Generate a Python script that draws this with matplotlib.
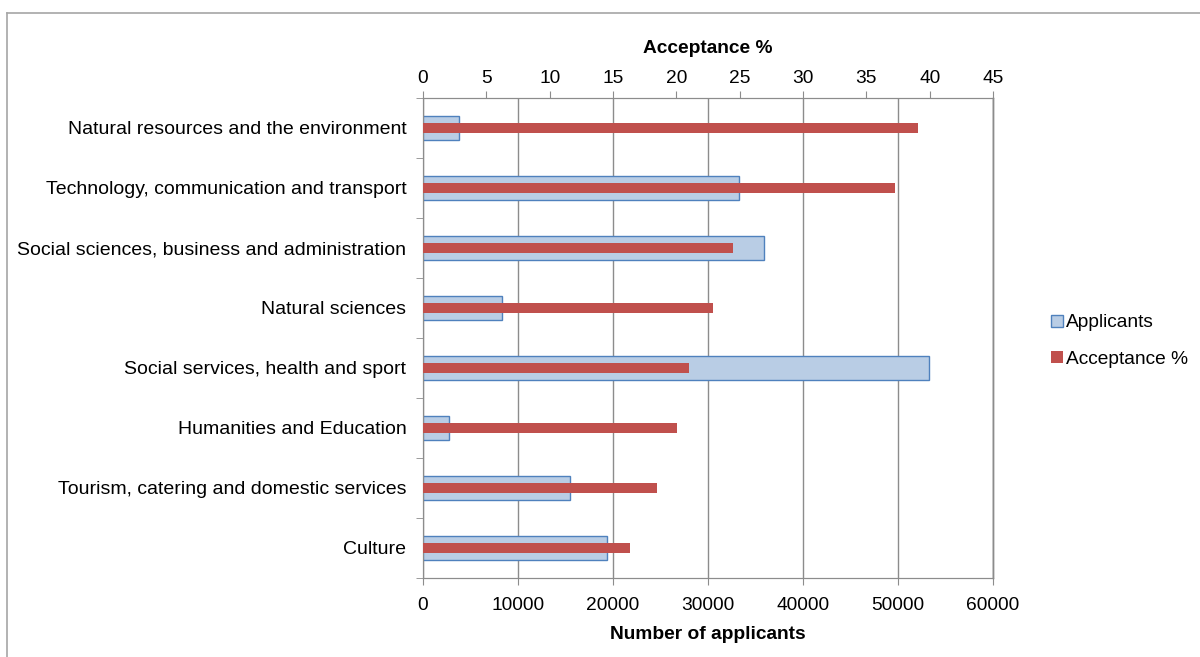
import matplotlib
matplotlib.use("Agg")
import matplotlib.pyplot as plt
from matplotlib.patches import Patch
from matplotlib.lines import Line2D
import numpy as np

plt.rcParams['font.family'] = ['Liberation Sans', 'DejaVu Sans']

categories = [
    "Natural resources and the environment",
    "Technology, communication and transport",
    "Social sciences, business and administration",
    "Natural sciences",
    "Social services, health and sport",
    "Humanities and Education",
    "Tourism, catering and domestic services",
    "Culture",
]
applicants = [3750, 33250, 35900, 8300, 53300, 2700, 15500, 19400]
acceptance = [39.1, 37.3, 24.5, 22.9, 21.0, 20.05, 18.5, 16.35]

applicant_ticks = [0, 10000, 20000, 30000, 40000, 50000, 60000]
acceptance_ticks = [0, 5, 10, 15, 20, 25, 30, 35, 40, 45]

blue_fill = "#B9CDE5"
blue_edge = "#4F81BD"
red = "#C0504D"
grid_gray = "#8C8C8C"
axis_gray = "#8C8C8C"
FS = 13.8

fig = plt.figure(figsize=(12, 6.57), dpi=100)
ax = fig.add_axes([423 / 1200, 1 - 578 / 657, 570 / 1200, 480 / 657])
ax2 = ax.twiny()

y = np.arange(len(categories))

ax.barh(y, applicants, height=0.4, color=blue_fill, edgecolor=blue_edge,
        linewidth=1.0, zorder=3)
ax2.barh(y, acceptance, height=0.17, color=red, edgecolor="none", zorder=4)

ax.set_xlim(0, 60000)
ax2.set_xlim(0, 45)
ax.set_ylim(len(categories) - 0.5, -0.5)
ax2.set_ylim(len(categories) - 0.5, -0.5)

ax.set_xticks(applicant_ticks)
ax.set_xticklabels([str(t) for t in applicant_ticks])
ax2.set_xticks(acceptance_ticks)
ax2.set_xticklabels([str(t) for t in acceptance_ticks])

ax.set_yticks(y)
ax.set_yticklabels(categories)
ax.set_yticks(np.arange(-0.5, len(categories) + 0.5, 1), minor=True)
ax.tick_params(axis="y", which="major", length=0, pad=12, labelsize=14)
ax.tick_params(axis="y", which="minor", length=5, color=axis_gray, direction="out")
ax.tick_params(axis="x", which="major", length=5, color=axis_gray, labelsize=FS, pad=9)
ax2.tick_params(axis="x", which="major", length=5, color=axis_gray, labelsize=FS, pad=3)

ax.xaxis.grid(True, color=grid_gray, linewidth=1.0, zorder=0)
ax.set_axisbelow(True)

for a in (ax, ax2):
    a.spines["left"].set_color(axis_gray)
    a.spines["bottom"].set_color(axis_gray)
    a.spines["top"].set_color(axis_gray)
    a.spines["right"].set_color(grid_gray)
    a.spines["right"].set_linewidth(1.0)

ax.set_xlabel("Number of applicants", fontsize=FS, fontweight="bold", labelpad=8)
ax2.set_xlabel("Acceptance %", fontsize=FS, fontweight="bold", labelpad=12)

handles = [
    Patch(facecolor=blue_fill, edgecolor=blue_edge, linewidth=1.0, label="Applicants"),
    Patch(facecolor=red, edgecolor="none", label="Acceptance %"),
]
fig.legend(handles=handles, loc="center left", bbox_to_anchor=(1034 / 1200, 1 - 341 / 657),
           frameon=False, fontsize=FS, handlelength=0.6, handleheight=0.6,
           handletextpad=0.15, labelspacing=1.0)

# outer chart frame
fig.add_artist(Line2D([7 / 1200, 1.0], [1 - 13 / 657, 1 - 13 / 657],
                      transform=fig.transFigure, color="#A6A6A6", linewidth=1.2))
fig.add_artist(Line2D([7 / 1200, 7 / 1200], [0.0, 1 - 13 / 657],
                      transform=fig.transFigure, color="#A6A6A6", linewidth=1.2))

fig.savefig("out.png", dpi=100, facecolor="white")
